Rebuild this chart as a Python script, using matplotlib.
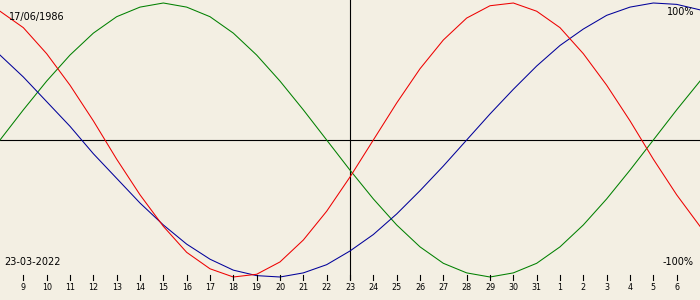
import numpy as np
import matplotlib
matplotlib.use("Agg")
import matplotlib.pyplot as plt

# day offsets around 23-03-2022 (centre line)
offsets = list(range(-15, 16))

# physical (red), emotional (green), intellectual (blue), read per day
physical = [0.94, 0.82, 0.63, 0.40, 0.14, -0.14, -0.40, -0.63, -0.82, -0.94,
            -1.00, -0.98, -0.89, -0.73, -0.52, -0.27, 0.00, 0.27, 0.52, 0.73,
            0.89, 0.98, 1.00, 0.94, 0.82, 0.63, 0.40, 0.14, -0.14, -0.40, -0.63]
emotional = [0.00, 0.22, 0.43, 0.62, 0.78, 0.90, 0.97, 1.00, 0.97, 0.90,
             0.78, 0.62, 0.43, 0.22, 0.00, -0.22, -0.43, -0.62, -0.78, -0.90,
             -0.97, -1.00, -0.97, -0.90, -0.78, -0.62, -0.43, -0.22, 0.00, 0.22, 0.43]
intellectual = [0.62, 0.46, 0.28, 0.10, -0.10, -0.28, -0.46, -0.62, -0.76, -0.87,
                -0.95, -0.99, -1.00, -0.97, -0.91, -0.81, -0.69, -0.54, -0.37, -0.19,
                0.00, 0.19, 0.37, 0.54, 0.69, 0.81, 0.91, 0.97, 1.00, 0.99, 0.95]

tick_days = [9, 10, 11, 12, 13, 14, 15, 16, 17, 18, 19, 20, 21, 22, 23, 24, 25,
             26, 27, 28, 29, 30, 31, 1, 2, 3, 4, 5, 6]
tick_pos = list(range(-14, 15))

birth_label = "17/06/1986"
date_label = "23-03-2022"

bg = "#F3EFE3"
fig = plt.figure(figsize=(7, 3), dpi=100, facecolor=bg)
ax = fig.add_axes([0, 0, 1, 1])
ax.set_facecolor(bg)

# pixel mapping: centre at y=140px, amplitude 137px
amp = 137.0
def py(p):
    return -(p - 140) / amp

ax.axhline(0, color="black", lw=0.8)
ax.plot([0, 0], [py(0), py(279)], color="black", lw=0.8)

ax.plot(offsets, emotional, color="#008000", lw=0.75)
ax.plot(offsets, intellectual, color="#00009A", lw=0.75)
ax.plot(offsets, physical, color="#EE0000", lw=0.75)

for x, d in zip(tick_pos, tick_days):
    ax.plot([x, x], [py(275), py(280)], color="black", lw=0.8)
    ax.text(x, py(288), str(d), ha="center", va="center", fontsize=5.8,
            family="DejaVu Sans")

ax.set_xlim(-15, 15)
ax.set_ylim(py(300), py(0))
ax.axis("off")

fig.text(9 / 700, 1 - 17 / 300, birth_label, ha="left", va="center", fontsize=7)
fig.text(694 / 700, 1 - 12 / 300, "100%", ha="right", va="center", fontsize=7)
fig.text(4 / 700, 1 - 262 / 300, date_label, ha="left", va="center", fontsize=7)
fig.text(694 / 700, 1 - 262 / 300, "-100%", ha="right", va="center", fontsize=7)

fig.savefig("out.png", dpi=100, facecolor=bg)
